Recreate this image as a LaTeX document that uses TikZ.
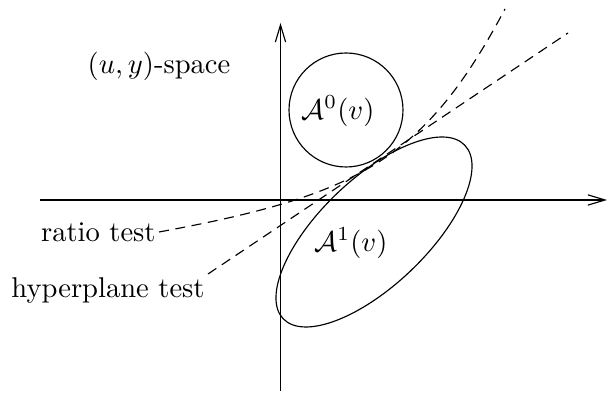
\documentclass[tikz,border=0pt]{standalone}
\usetikzlibrary{arrows.meta}
\tikzset{
  lbl/.style={inner sep=1pt},
  testline/.style={dash pattern=on 3.5pt off 2.3pt},
}
\begin{document}
\begin{tikzpicture}[x=0.35pt, y=0.35pt, >={Straight Barb[length=6pt,width=3.6pt]}]
    \useasboundingbox (0,0) rectangle (608,398);
    % axes
    \draw[->] (40,198) -- (607,198);
    \draw[->] (280.5,7) -- (280.5,375);

    % the two sets
    \draw (346,288) circle[radius=57];
    \draw[rotate around={43.7:(374,166)}] (374,166) ellipse[x radius=125.6, y radius=53.4];
    \node (a0) at (338,287) {$\mathcal{A}^0(v)$};
    \node (a1) at (351,155) {$\mathcal{A}^1(v)$};

    \node (space) at (159,332) {$(u,y)$-space};
    \node[lbl, anchor=east] (ratio) at (159,166) {ratio test};
    \node[lbl, anchor=north east] (hyper) at (208,124) {hyperplane test};

    % ratio curve and hyperplane
    \coordinate (r1) at (505,389);
    \coordinate (h1) at (568,365);
    \draw[testline] (ratio.east) .. controls (360,203) and (425,239) .. (r1);
    \draw[testline] (hyper.north east) -- (h1);
\end{tikzpicture}
\end{document}
